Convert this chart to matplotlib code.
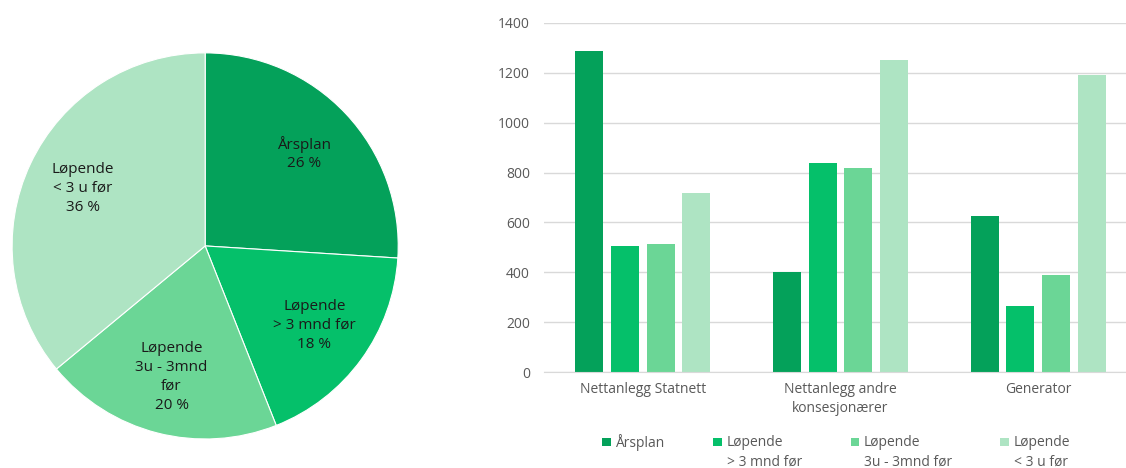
import matplotlib.pyplot as plt
import matplotlib.patches as mpatches
from matplotlib.container import BarContainer
from matplotlib.legend_handler import HandlerPatch
import numpy as np

plt.rcParams['font.family'] = ['Open Sans', 'DejaVu Sans']

# data
series = ["Årsplan\n ", "Løpende\n> 3 mnd før", "Løpende\n3u - 3mnd før", "Løpende\n< 3 u før"]
pie_names = ["Årsplan", "Løpende\n> 3 mnd før", "Løpende\n3u - 3mnd\nfør", "Løpende\n< 3 u før"]
pie_pct = [26, 18, 20, 36]
categories = ["Nettanlegg Statnett", "Nettanlegg andre\nkonsesjonærer", "Generator"]
arsplan = [1286, 401, 624]
lop_3mnd = [505, 838, 264]
lop_3u_3mnd = [513, 817, 389]
lop_3u = [717, 1250, 1193]
colors = ["#04A15A", "#05C06A", "#6BD696", "#AEE4C3"]


class TopSquare(HandlerPatch):
    # draw the legend square next to the first text line
    def create_artists(self, legend, orig_handle, xdescent, ydescent, width, height, fontsize, trans):
        s = 0.62 * fontsize
        fc = orig_handle.patches[0].get_facecolor()
        p = mpatches.Rectangle((-xdescent + width - s, -ydescent + height - s + 0.25 * fontsize), s, s,
                               facecolor=fc, edgecolor="none", transform=trans)
        return [p]


fig = plt.figure(figsize=(11.26, 4.68), dpi=100)

# pie
ax1 = fig.add_axes([0.0107, 0.062, 0.343, 0.825])
labels = [f"{n}\n{p} %" for n, p in zip(pie_names, pie_pct)]
wedges, texts = ax1.pie(pie_pct, labels=labels, colors=colors, startangle=90,
                        counterclock=False, labeldistance=0.7,
                        wedgeprops=dict(edgecolor="white", linewidth=0.8),
                        textprops=dict(fontsize=11, color="#1a1a1a", linespacing=1.35))
for t in texts:
    t.set_ha("center")
    t.set_va("center")
ax1.set_xlim(-1, 1)
ax1.set_ylim(-1, 1)
ax1.set_aspect("equal")

# bars
ax2 = fig.add_axes([544 / 1126, 0.205, 593 / 1126, 0.746])
x = np.arange(len(categories))
w = 0.1416
pitch = 0.18
for i, vals in enumerate([arsplan, lop_3mnd, lop_3u_3mnd, lop_3u]):
    ax2.bar(x + (i - 1.5) * pitch, vals, width=w, color=colors[i], label=series[i], zorder=3)

ax2.set_xlim(-0.5, 2.5)
ax2.set_ylim(0, 1400)
ax2.set_yticks(range(0, 1401, 200))
ax2.set_xticks(x)
ax2.set_xticklabels(categories, linespacing=1.4)
ax2.yaxis.grid(True, color="#D9D9D9", linewidth=1, zorder=0)
ax2.tick_params(axis="both", length=0, labelsize=10, colors="#595959")
ax2.tick_params(axis="y", pad=10)
ax2.tick_params(axis="x", pad=7)
for s in ["top", "right", "left"]:
    ax2.spines[s].set_visible(False)
ax2.spines["bottom"].set_color("#D9D9D9")
ax2.spines["bottom"].set_zorder(4)

handles, leg_labels = ax2.get_legend_handles_labels()
leg = fig.legend(handles, leg_labels, loc="upper left", bbox_to_anchor=(602 / 1126, 1 - 434 / 468), ncol=4,
                 frameon=False, fontsize=10, handlelength=0.65, handleheight=2.3,
                 handletextpad=0.35, columnspacing=3.45, labelcolor="#595959",
                 borderaxespad=0, borderpad=0,
                 handler_map={BarContainer: TopSquare()})
for t in leg.get_texts():
    t.set_linespacing(1.4)

fig.savefig("out.png", dpi=100)
